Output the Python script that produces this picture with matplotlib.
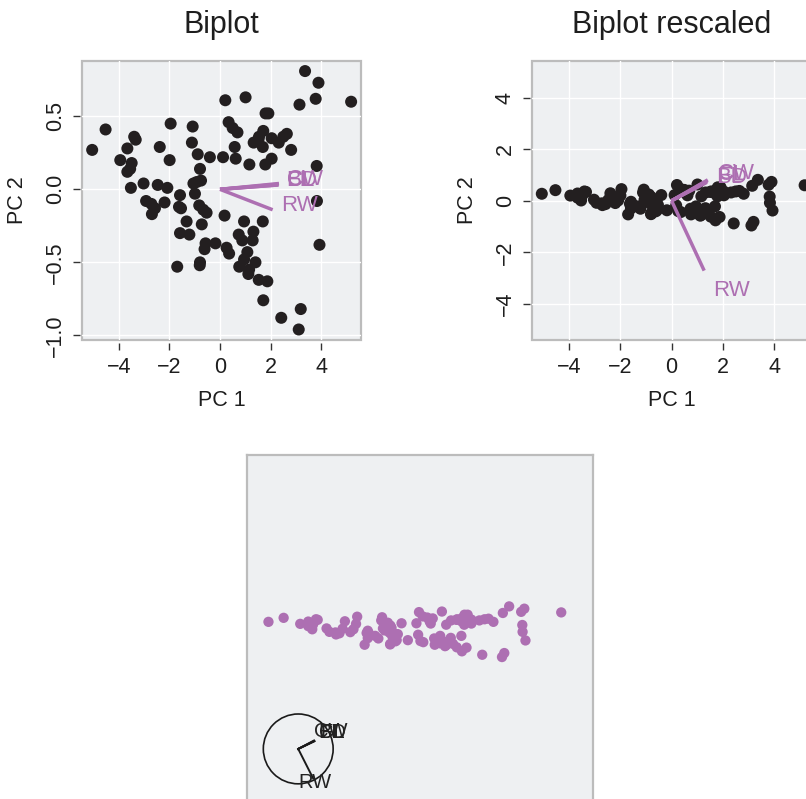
import numpy as np
import matplotlib
matplotlib.use("Agg")
import matplotlib.pyplot as plt
from matplotlib.ticker import FuncFormatter, FixedLocator
from matplotlib.patches import Circle

plt.rcParams['font.family'] = ['Liberation Sans', 'DejaVu Sans']

# ---- data (PC scores) ----
pc1 = [-5.05, -4.52, -3.39, -3.33, -3.66, -3.94, -3.49, -3.66, -3.55, -3.52,
       -3.02, -2.46, -2.08, -2.38, -1.99, -1.95, -1.08, -1.11, -0.88, -0.79,
       -1.05, -0.92, -0.75, -0.99, -0.40, 0.12, 0.62, 1.16, 0.21, 1.01,
       0.34, 0.50, 0.69, 0.58, 1.80, 1.91, 1.71, 1.54, 1.33, 1.69,
       1.52, 2.04, 2.32, 2.50, 2.64, 2.81, 2.04, 1.79, 3.14, 3.36,
       3.89, 3.78, 5.18, 3.82, 3.83, 3.93,
       -2.92, -2.71, -2.57, -2.69, -2.19, -1.58, -1.62, -1.54, -1.32, -1.58,
       -1.21, -0.82, -0.66, -0.53, -0.72, -0.57, -0.61, -0.18, -0.79, -0.80,
       -1.69, 0.18, 0.26, 0.36, 0.95, 1.69, 0.74, 0.88, 1.32, 1.29,
       1.08, 0.95, 0.76, 1.40, 1.15, 1.12, 1.53, 1.87, 1.71, 2.42,
       3.19, 3.11]
pc2 = [0.27, 0.41, 0.36, 0.34, 0.28, 0.20, 0.18, 0.12, 0.14, 0.01,
       0.04, 0.03, 0.01, 0.29, 0.20, 0.45, 0.43, 0.32, 0.24, 0.14,
       0.04, 0.05, 0.06, -0.03, 0.22, 0.22, 0.21, 0.17, 0.61, 0.63,
       0.46, 0.42, 0.39, 0.29, 0.52, 0.52, 0.40, 0.36, 0.32, 0.29,
       0.34, 0.35, 0.32, 0.36, 0.38, 0.27, 0.21, 0.17, 0.58, 0.81,
       0.73, 0.62, 0.60, 0.16, -0.08, -0.38,
       -0.08, -0.10, -0.13, -0.17, -0.09, -0.04, -0.12, -0.13, -0.22, -0.30,
       -0.31, -0.11, -0.14, -0.16, -0.24, -0.37, -0.41, -0.37, -0.50, -0.52,
       -0.53, -0.18, -0.40, -0.44, -0.22, -0.22, -0.31, -0.35, -0.29, -0.35,
       -0.43, -0.48, -0.53, -0.50, -0.55, -0.58, -0.62, -0.63, -0.76, -0.88,
       -0.82, -0.96]

# ---- variable loadings ----
var_names = ["FL", "RW", "CL", "CW", "BD"]
biplot_load_x = [2.30, 2.08, 2.32, 2.33, 2.28]
biplot_load_y = [0.035, -0.14, 0.030, 0.040, 0.030]
rescaled_load_x = [1.38, 1.27, 1.40, 1.41, 1.37]
rescaled_load_y = [0.74, -2.71, 0.78, 0.81, 0.71]
circle_load_x = [0.46, 0.43, 0.46, 0.45, 0.46]
circle_load_y = [0.23, -0.85, 0.22, 0.24, 0.22]

xticks = [-4, -2, 0, 2, 4]
yticks_biplot = [-1.0, -0.5, 0.0, 0.5]
yticks_rescaled = [-4, -2, 0, 2, 4]

# ---- styles ----
BG = '#eef0f2'
FRAME = '#bcbcbc'
PT = '#231f20'
PURPLE = '#ad6fb2'
TICKC = '#333333'
TXT = '#1e1e1e'

W, H = 806, 799
fig = plt.figure(figsize=(W / 100, H / 100), dpi=100)


def px_axes(x0, y0, x1, y1):
    return fig.add_axes([x0 / W, 1 - y1 / H, (x1 - x0) / W, (y1 - y0) / H])


def minus_fmt(fmt):
    return FuncFormatter(lambda v, p: fmt.format(v).replace('-', '\u2212'))


def style_axes(ax, yt, yfmt):
    ax.set_facecolor(BG)
    for s in ax.spines.values():
        s.set_color('none')
    ax.spines['left'].set_position(('outward', 2))
    ax.spines['bottom'].set_position(('outward', 2))
    ax.patch.set_edgecolor(FRAME)
    ax.patch.set_linewidth(1.6)
    ax.xaxis.set_major_locator(FixedLocator(xticks))
    ax.yaxis.set_major_locator(FixedLocator(yt))
    ax.xaxis.set_major_formatter(minus_fmt('{:.0f}'))
    ax.yaxis.set_major_formatter(minus_fmt(yfmt))
    ax.tick_params(direction='out', length=5, width=1.0, color=TICKC,
                   labelsize=15.5, labelcolor=TXT, pad=5)
    for lab in ax.get_yticklabels():
        lab.set_rotation(90)
        lab.set_va('center')
    ax.grid(True, color='white', linewidth=1.0)
    ax.set_axisbelow(True)
    ax.set_xlabel('PC 1', fontsize=15.5, color=TXT)
    ax.set_ylabel('PC 2', fontsize=15.5, color=TXT)
    ax.xaxis.set_label_coords(0.5, -0.215)
    ax.xaxis.label.set_va('center')
    ax.yaxis.set_label_coords(-0.234, 0.5)
    ax.yaxis.label.set_va('center')


# ---- panel 1: Biplot ----
ax1 = px_axes(82.3, 60.7, 361, 340)
style_axes(ax1, yticks_biplot, '{:.1f}')
ax1.set_xlim(-5.44, 5.57)
ax1.set_ylim(-1.032, 0.881)
ax1.scatter(pc1, pc2, s=75, color=PT, edgecolors='none', zorder=3)
for name, lx, ly in zip(var_names, biplot_load_x, biplot_load_y):
    ax1.plot([0, lx], [0, ly], color=PURPLE, lw=2.5, solid_capstyle='butt', zorder=4)
    ax1.annotate(name, (lx, ly), xytext=(6, 3), textcoords='offset points',
                 ha='left', va='center', color=PURPLE, fontsize=16, zorder=5)
ax1.set_title('Biplot', fontsize=22, pad=20, color=TXT)

# ---- panel 2: Biplot rescaled ----
ax2 = px_axes(532.3, 60.7, 811.3, 340)
style_axes(ax2, yticks_rescaled, '{:.0f}')
ax2.set_xlim(-5.42, 5.44)
ax2.set_ylim(-5.40, 5.43)
ax2.scatter(pc1, pc2, s=75, color=PT, edgecolors='none', zorder=3)
for name, lx, ly in zip(var_names, rescaled_load_x, rescaled_load_y):
    ax2.plot([0, lx], [0, ly], color=PURPLE, lw=2.5, solid_capstyle='butt', zorder=4)
    ax2.text(lx * 1.28, ly * 1.28, name, ha='left', va='center',
             color=PURPLE, fontsize=16, zorder=5)
ax2.set_title('Biplot rescaled', fontsize=22, pad=20, color=TXT)

# ---- panel 3: correlation-circle biplot ----
ax3 = px_axes(247, 455, 593, 801)
ax3.set_facecolor(BG)
for s in ax3.spines.values():
    s.set_color(FRAME)
    s.set_linewidth(1.6)
ax3.set_xticks([])
ax3.set_yticks([])
ax3.set_xlim(-5.80, 6.29)
ax3.set_ylim(-5.99, 6.10)
ax3.scatter(pc1, pc2, s=55, color=PURPLE, edgecolors='none', zorder=3)

cx, cy, r = -4.01, -4.17, 1.22
ax3.add_patch(Circle((cx, cy), r, fill=False, edgecolor='#1a1a1a', lw=1.2, zorder=4))
for name, lx, ly in zip(var_names, circle_load_x, circle_load_y):
    ax3.plot([cx, cx + lx * r], [cy, cy + ly * r], color='#1a1a1a', lw=1.4, zorder=5)
    nrm = np.hypot(lx, ly)
    ax3.text(cx + lx / nrm * 1.07 * r, cy + ly / nrm * 1.07 * r, name,
             ha='center', va='center', color='#222222', fontsize=14.5, zorder=6)

fig.savefig('out.png', dpi=100)
